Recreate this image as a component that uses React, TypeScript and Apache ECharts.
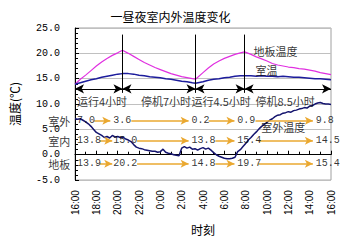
import React, { useEffect, useRef } from "react";
import * as echarts from "echarts";

// x axis: hours elapsed since 16:00
const timeTickLabels = ["16:00", "18:00", "20:00", "22:00", "0:00", "2:00", "4:00", "6:00", "8:00", "10:00", "12:00", "14:00", "16:00"];

const indoorHours = [0, 0.5, 1, 1.5, 2, 2.5, 3, 3.5, 4, 4.45, 5, 5.5, 6, 6.5, 7, 7.5, 8, 8.5, 9, 9.5, 10, 10.5, 11, 11.3, 12, 12.5, 13, 13.5, 14, 14.5, 15, 15.5, 15.9, 16.5, 17, 17.5, 18, 18.5, 19, 19.5, 20, 20.5, 21, 21.5, 22, 22.5, 23, 23.5, 24];
const floorTemp = [13.9, 14.9, 15.7, 16.6, 17.5, 18.3, 19.0, 19.6, 20.1, 20.6, 20.0, 19.4, 18.8, 18.2, 17.7, 17.2, 16.8, 16.4, 16.0, 15.7, 15.4, 15.2, 15.0, 14.9, 16.2, 17.1, 17.9, 18.5, 19.0, 19.4, 19.8, 20.1, 20.3, 19.8, 19.3, 18.9, 18.5, 18.0, 17.7, 17.5, 17.3, 17.2, 17.0, 16.9, 16.7, 16.5, 16.2, 16.0, 15.8];
const roomTemp = [13.9, 14.2, 14.5, 14.8, 15.0, 15.3, 15.5, 15.7, 15.9, 16.0, 16.0, 15.9, 15.7, 15.6, 15.4, 15.3, 15.2, 15.0, 14.9, 14.7, 14.5, 14.4, 14.2, 14.1, 14.4, 14.7, 14.9, 15.0, 15.2, 15.3, 15.5, 15.6, 15.6, 15.6, 15.5, 15.6, 15.5, 15.5, 15.4, 15.5, 15.4, 15.3, 15.3, 15.2, 15.1, 15.0, 15.0, 14.9, 14.8];

const outdoorHours = [0, 0.25, 0.5, 0.75, 1, 1.25, 1.5, 1.75, 2, 2.25, 2.5, 2.75, 3, 3.25, 3.5, 3.75, 4, 4.25, 4.5, 4.75, 5, 5.25, 5.5, 5.75, 6, 6.25, 6.5, 6.75, 7, 7.25, 7.5, 7.75, 8, 8.25, 8.5, 8.75, 9, 9.25, 9.5, 9.75, 10, 10.25, 10.5, 10.75, 11, 11.25, 11.5, 11.75, 12, 12.25, 12.5, 12.75, 13, 13.25, 13.5, 13.75, 14, 14.25, 14.5, 14.75, 15, 15.25, 15.5, 15.75, 16, 16.25, 16.5, 16.75, 17, 17.25, 17.5, 17.75, 18, 18.25, 18.5, 18.75, 19, 19.25, 19.5, 19.75, 20, 20.25, 20.5, 20.75, 21, 21.25, 21.5, 21.75, 22, 22.25, 22.5, 22.75, 23, 23.25, 23.5, 23.75, 24];
const outdoorTemp = [7.1, 7.0, 7.1, 6.8, 6.5, 6.1, 5.6, 5.0, 4.4, 4.1, 3.8, 3.4, 3.6, 3.3, 3.8, 3.5, 3.6, 3.4, 3.5, 3.1, 2.9, 2.6, 2.0, 1.5, 1.3, 1.2, 1.0, 0.9, 0.8, 0.7, 0.7, 0.5, 0.6, 1.1, 0.5, 0.3, 0.2, 0.0, -0.1, -0.2, 1.3, 1.6, 1.3, 1.5, 1.1, 1.2, 0.9, 1.2, 1.4, 1.1, 1.3, 0.9, 0.4, 0.0, -0.3, -0.5, -0.7, -0.8, -0.8, -0.7, -0.5, 0.6, 1.0, 1.6, 2.2, 2.9, 3.4, 4.0, 4.5, 5.1, 5.6, 6.0, 6.4, 6.8, 7.1, 7.5, 7.8, 7.9, 8.2, 8.3, 8.5, 8.4, 8.7, 8.8, 9.0, 9.1, 9.3, 9.2, 9.6, 9.7, 10.0, 10.2, 10.3, 10.1, 10.0, 10.0, 9.9];

// operating phases
const phaseBounds = [0, 4.45, 11.3, 15.9, 24];
const phaseNames = ["运行4小时", "停机7小时", "运行4.5小时", "停机8.5小时"];
const phaseNameHours = [0.18, 6.18, 10.92, 16.92];

// per-phase summary rows
const rowNames = ["室外", "室内", "地板"];
const outdoorPhaseValues = ["7.0", "3.6", "0.2", "0.9", "9.8"];
const indoorPhaseValues = ["13.8", "15.0", "13.8", "15.4", "14.5"];
const floorPhaseValues = ["13.9", "20.2", "14.8", "19.7", "15.4"];
const valueLabelHours = [0.18, 3.58, 10.92, 15.22, 22.56];
const outdoorArrowSpans = [[1.8, 3.31], [5.28, 10.65], [12.53, 14.95], [16.92, 22.3]];
const indoorArrowSpans = [[2.33, 3.49], [5.82, 10.65], [13.16, 14.95], [17.19, 22.3]];

const CJK = '"Noto Sans CJK SC", "Noto Sans CJK JP", sans-serif';
const MONO = '"Liberation Mono", "DejaVu Sans Mono", monospace';

export default function App() {
  const ref = useRef<HTMLDivElement>(null);
  useEffect(() => {
    if (!ref.current) return;
    const chart = echarts.init(ref.current, undefined, { renderer: "svg" });

    const rowY = [6.7, 2.74, -1.8];
    const rowValues = [outdoorPhaseValues, indoorPhaseValues, floorPhaseValues];
    const rowSpans = [outdoorArrowSpans, indoorArrowSpans, indoorArrowSpans];
    const phaseTextY = 10.66;
    const phaseArrowY = 13.0;

    const numberTexts: any[] = [];
    rowValues.forEach((vals, r) => {
      vals.forEach((s, i) => numberTexts.push([valueLabelHours[i], rowY[r], s]));
    });
    const orangeArrows: any[] = [];
    rowSpans.forEach((spans, r) => {
      spans.forEach(([a, b]) => orangeArrows.push([{ coord: [a, rowY[r]] }, { coord: [b, rowY[r]] }]));
    });
    const blackArrows: any[] = [];
    for (let i = 0; i < phaseBounds.length - 1; i++) {
      blackArrows.push([{ coord: [phaseBounds[i], phaseArrowY] }, { coord: [phaseBounds[i + 1], phaseArrowY] }]);
    }
    const verticals = phaseBounds.slice(1, -1).map((t) => [{ coord: [t, 23.7] }, { coord: [t, 12.2] }]);

    const textSeries = (data: any[], position: string, font: string, size: number) => ({
      type: "scatter",
      data,
      symbolSize: 0,
      clip: false,
      silent: true,
      z: 5,
      label: {
        show: true,
        position,
        distance: 0,
        formatter: (p: any) => p.data[2],
        color: "#000",
        fontFamily: font,
        fontSize: size,
      },
    });

    chart.setOption({
      animation: false,
      backgroundColor: "#fff",
      title: {
        text: "一昼夜室内外温度变化",
        left: "center",
        top: 5,
        textStyle: { fontFamily: CJK, fontSize: 12, fontWeight: "normal", color: "#000" },
      },
      grid: { left: 63, right: 10, top: 28, bottom: 53, show: true, borderColor: "#a0a0a0", borderWidth: 1 },
      xAxis: {
        type: "value",
        min: 0,
        max: 24,
        interval: 2,
        name: "时刻",
        nameLocation: "middle",
        nameGap: 38,
        nameTextStyle: { fontFamily: CJK, fontSize: 12, color: "#000" },
        axisLine: { lineStyle: { color: "#000" } },
        axisTick: { inside: true, length: 4, lineStyle: { color: "#000" } },
        minorTick: { show: true, splitNumber: 2, length: 3, lineStyle: { color: "#000" } },
        splitLine: { show: false },
        axisLabel: {
          rotate: 90,
          margin: 10,
          fontFamily: '"Liberation Sans", Arial, sans-serif',
          fontSize: 10,
          color: "#000",
          formatter: (v: number) => timeTickLabels[Math.round(v / 2)],
        },
      },
      yAxis: {
        type: "value",
        min: -5,
        max: 25,
        interval: 5,
        name: "温度(℃)",
        nameLocation: "middle",
        nameRotate: 90,
        nameGap: 55,
        nameTextStyle: { fontFamily: CJK, fontSize: 12, color: "#000" },
        axisLine: { show: true, lineStyle: { color: "#000" } },
        axisTick: { show: true, inside: true, length: 4, lineStyle: { color: "#000" } },
        minorTick: { show: true, splitNumber: 5, length: 3, lineStyle: { color: "#000" } },
        splitLine: { show: true, lineStyle: { color: "#c0c0c0" } },
        axisLabel: {
          margin: 15,
          fontFamily: MONO,
          fontSize: 10,
          color: "#000",
          formatter: (v: number) => v.toFixed(1),
        },
      },
      series: [
        {
          name: "地板温度",
          type: "line",
          data: indoorHours.map((t, i) => [t, floorTemp[i]]),
          showSymbol: false,
          lineStyle: { color: "#e030e0", width: 1.2 },
          itemStyle: { color: "#e030e0" },
          z: 3,
        },
        {
          name: "室温",
          type: "line",
          data: indoorHours.map((t, i) => [t, roomTemp[i]]),
          showSymbol: false,
          lineStyle: { color: "#1c1c9c", width: 1.5 },
          itemStyle: { color: "#1c1c9c" },
          z: 3,
        },
        {
          name: "室外温度",
          type: "line",
          data: outdoorHours.map((t, i) => [t, outdoorTemp[i]]),
          showSymbol: false,
          lineStyle: { color: "#14146e", width: 1.5 },
          itemStyle: { color: "#14146e" },
          z: 3,
        },
        {
          type: "line",
          data: [],
          silent: true,
          markLine: {
            silent: true,
            symbol: ["none", "arrow"],
            symbolSize: [6, 8],
            label: { show: false },
            lineStyle: { color: "#eaa830", width: 1.5, type: "solid" },
            data: orangeArrows,
            z: 4,
          },
        },
        {
          type: "line",
          data: [],
          silent: true,
          markLine: {
            silent: true,
            symbol: ["arrow", "arrow"],
            symbolSize: [7, 9],
            label: { show: false },
            lineStyle: { color: "#000", width: 1, type: "solid" },
            data: blackArrows,
            z: 4,
          },
        },
        {
          type: "line",
          data: [],
          silent: true,
          markLine: {
            silent: true,
            symbol: ["none", "none"],
            label: { show: false },
            lineStyle: { color: "#000", width: 1, type: "solid" },
            data: verticals,
            z: 4,
          },
        },
        textSeries(phaseNames.map((s, i) => [phaseNameHours[i], phaseTextY, s]), "right", CJK, 11),
        textSeries(numberTexts, "right", MONO, 10),
        textSeries(rowNames.map((s, i) => [-0.45, rowY[i], s]), "left", CJK, 11),
        textSeries(
          [
            [16.74, 20.47, "地板温度"],
            [16.92, 16.7, "室温"],
            [17.46, 5.38, "室外温度"],
          ],
          "right",
          CJK,
          11
        ),
      ],
    });
    return () => chart.dispose();
  }, []);
  return <div ref={ref} style={{ position: "fixed", left: 0, top: 0, width: 341, height: 240 }} />;
}
